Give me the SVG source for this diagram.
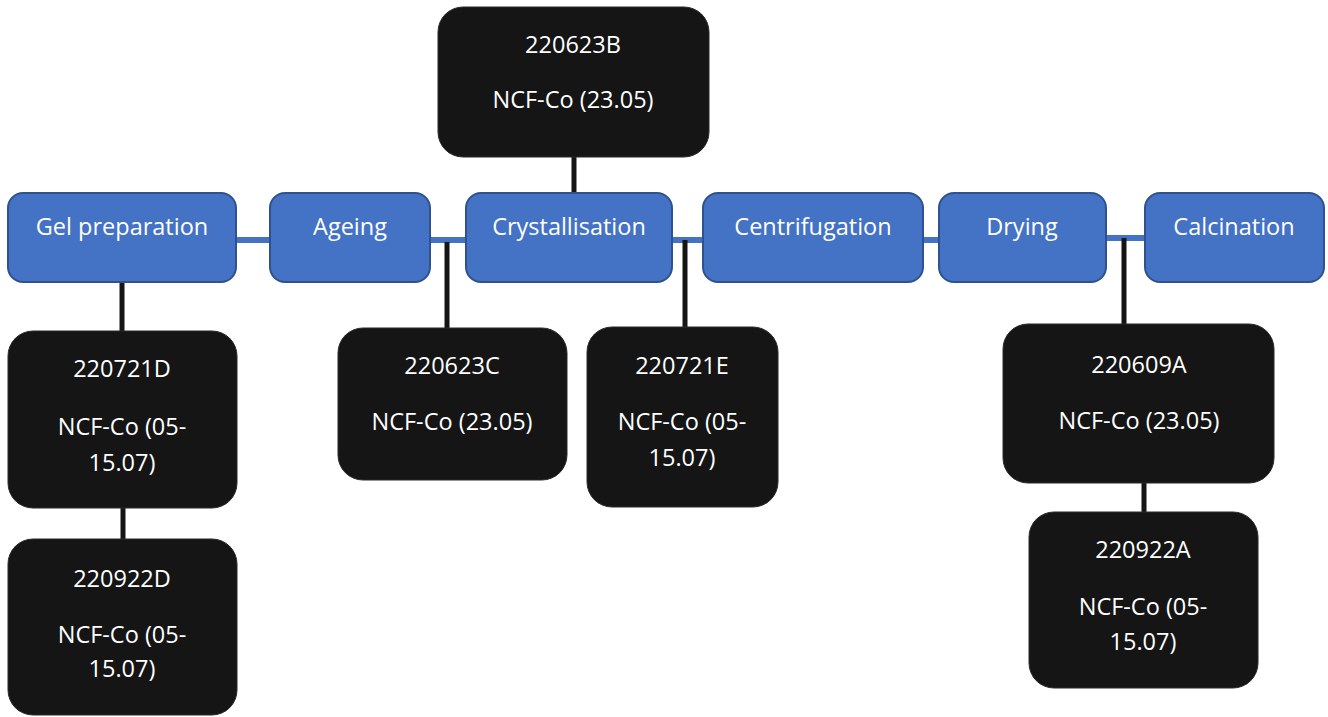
<svg xmlns="http://www.w3.org/2000/svg" width="1328" height="717" viewBox="0 0 1328 717">
  <style>
    .step { fill: #4472C4; stroke: #2F528F; stroke-width: 2; }
    .sample { fill: #151515; stroke: #2a2a2a; stroke-width: 1; }
    .lbl { font-family: "Open Sans", "Noto Sans", sans-serif; font-size: 23.5px; fill: #ffffff; text-anchor: middle; }
    .flow { stroke: #4472C4; stroke-width: 6; fill: none; }
    .link { stroke: #151515; stroke-width: 5; fill: none; }
  </style>
  <rect width="1328" height="717" fill="#ffffff"/>

  <!-- connectors -->
  <g id="connectors">
    <line class="flow" x1="236" y1="240" x2="270" y2="240"/>
    <line class="flow" x1="430" y1="240" x2="466" y2="240"/>
    <line class="flow" x1="672" y1="240" x2="703" y2="240"/>
    <line class="flow" x1="923" y1="240" x2="939" y2="240"/>
    <line class="flow" x1="1106" y1="238" x2="1145" y2="238"/>
    <line class="link" x1="574" y1="156" x2="574" y2="193"/>
    <line class="link" x1="122" y1="282" x2="122" y2="332"/>
    <line class="link" x1="447" y1="242" x2="447" y2="329"/>
    <line class="link" x1="685" y1="240" x2="685" y2="328"/>
    <line class="link" x1="1124" y1="238" x2="1124" y2="325"/>
    <line class="link" x1="123" y1="507" x2="123" y2="540"/>
    <line class="link" x1="1144" y1="482" x2="1144" y2="513"/>
  </g>

  <!-- process steps -->
  <g id="gel-preparation">
    <rect class="step" x="8" y="193" width="228" height="89" rx="15"/>
    <text class="lbl" x="122" y="235">Gel preparation</text>
  </g>
  <g id="ageing">
    <rect class="step" x="270" y="193" width="160" height="89" rx="15"/>
    <text class="lbl" x="350" y="235">Ageing</text>
  </g>
  <g id="crystallisation">
    <rect class="step" x="466" y="193" width="206" height="89" rx="15"/>
    <text class="lbl" x="569" y="235">Crystallisation</text>
  </g>
  <g id="centrifugation">
    <rect class="step" x="703" y="193" width="220" height="89" rx="15"/>
    <text class="lbl" x="813" y="235">Centrifugation</text>
  </g>
  <g id="drying">
    <rect class="step" x="939" y="193" width="167" height="89" rx="15"/>
    <text class="lbl" x="1022" y="235">Drying</text>
  </g>
  <g id="calcination">
    <rect class="step" x="1145" y="193" width="179" height="89" rx="15"/>
    <text class="lbl" x="1234" y="235">Calcination</text>
  </g>

  <!-- samples -->
  <g id="s220623B">
    <rect class="sample" x="438" y="7" width="271" height="150" rx="25"/>
    <text class="lbl" x="573" y="53">220623B</text>
    <text class="lbl" x="573" y="108">NCF-Co (23.05)</text>
  </g>
  <g id="s220721D">
    <rect class="sample" x="8" y="331" width="229" height="177" rx="25"/>
    <text class="lbl" x="122" y="377">220721D</text>
    <text class="lbl" x="122" y="435">NCF-Co (05-</text>
    <text class="lbl" x="122" y="471">15.07)</text>
  </g>
  <g id="s220922D">
    <rect class="sample" x="8" y="539" width="229" height="176" rx="25"/>
    <text class="lbl" x="122" y="587">220922D</text>
    <text class="lbl" x="122" y="643">NCF-Co (05-</text>
    <text class="lbl" x="122" y="677">15.07)</text>
  </g>
  <g id="s220623C">
    <rect class="sample" x="338" y="328" width="229" height="152" rx="25"/>
    <text class="lbl" x="452" y="374">220623C</text>
    <text class="lbl" x="452" y="430">NCF-Co (23.05)</text>
  </g>
  <g id="s220721E">
    <rect class="sample" x="587" y="327" width="191" height="180" rx="25"/>
    <text class="lbl" x="682" y="374">220721E</text>
    <text class="lbl" x="682" y="430">NCF-Co (05-</text>
    <text class="lbl" x="682" y="466">15.07)</text>
  </g>
  <g id="s220609A">
    <rect class="sample" x="1003" y="324" width="271" height="159" rx="25"/>
    <text class="lbl" x="1139" y="373">220609A</text>
    <text class="lbl" x="1139" y="429">NCF-Co (23.05)</text>
  </g>
  <g id="s220922A">
    <rect class="sample" x="1029" y="512" width="229" height="176" rx="25"/>
    <text class="lbl" x="1143" y="558">220922A</text>
    <text class="lbl" x="1143" y="615">NCF-Co (05-</text>
    <text class="lbl" x="1143" y="650">15.07)</text>
  </g>
</svg>
